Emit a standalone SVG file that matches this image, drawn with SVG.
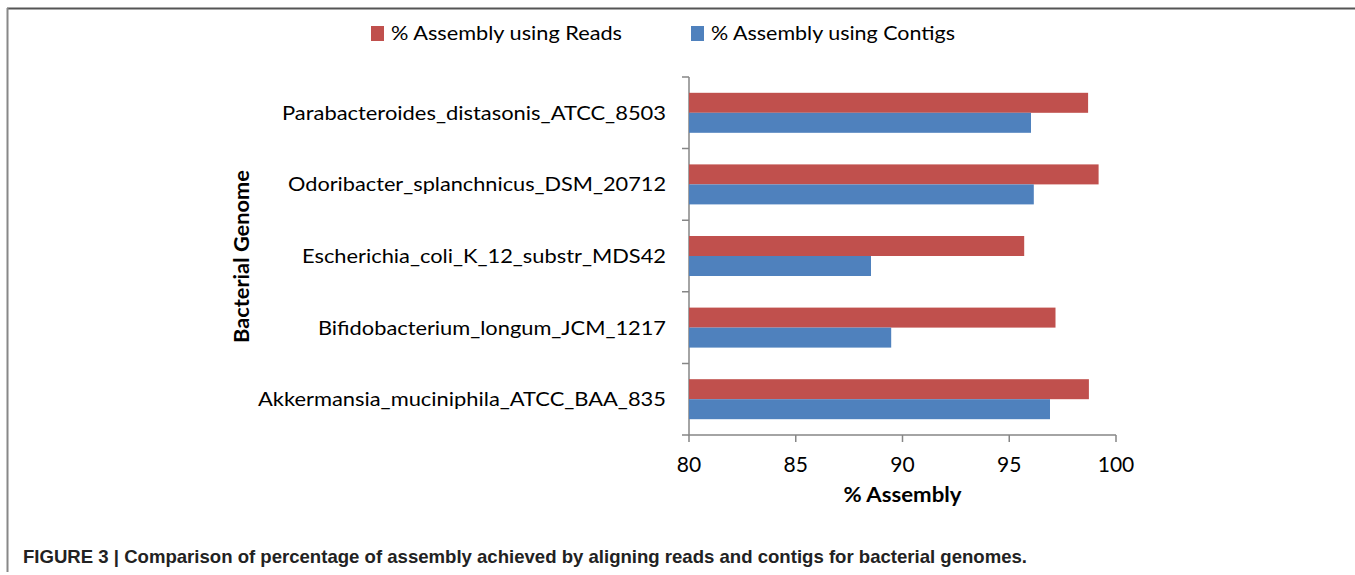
<svg xmlns="http://www.w3.org/2000/svg" width="1355" height="575" viewBox="0 0 1355 575">
<style>
.lbl{font-family:Lato,"Liberation Sans",sans-serif;font-size:20px;fill:#000}
.tick{font-family:Lato,"Liberation Sans",sans-serif;font-size:21px;fill:#000;text-anchor:middle}
.ttl{font-family:Lato,"Liberation Sans",sans-serif;font-size:20px;font-weight:bold;fill:#000}
.cap{font-family:"Liberation Sans",Arial,sans-serif;font-size:19px;font-weight:bold;fill:#222}
.red{fill:#C0504D}
.blue{fill:#4F81BD}
.ax{stroke:#868686;stroke-width:1.5;fill:none}
</style>
<rect x="0" y="0" width="1355" height="575" fill="#fff"/>
<g id="frame">
<line x1="7" y1="8.5" x2="1355" y2="8.5" stroke="#555" stroke-width="2"/>
<line x1="7.5" y1="8" x2="7.5" y2="572" stroke="#888" stroke-width="2"/>
</g>
<g id="legend">
<rect class="red" x="371" y="26" width="13" height="15"/>
<text class="lbl" x="391" y="40" textLength="231" lengthAdjust="spacingAndGlyphs">% Assembly using Reads</text>
<rect class="blue" x="691" y="26" width="13" height="15"/>
<text class="lbl" x="711" y="40" textLength="244" lengthAdjust="spacingAndGlyphs">% Assembly using Contigs</text>
</g>
<g id="axes">
<path class="ax" d="M689 77V435H1116"/>
<path class="ax" d="M682 77H689M682 148.6H689M682 220.2H689M682 291.8H689M682 363.4H689M682 435H689"/>
<path class="ax" d="M689 435V442M795.75 435V442M902.5 435V442M1009.25 435V442M1116 435V442"/>
</g>
<g id="x-ticks">
<text class="tick" x="689" y="472">80</text>
<text class="tick" x="795.75" y="472">85</text>
<text class="tick" x="902.5" y="472">90</text>
<text class="tick" x="1009.25" y="472">95</text>
<text class="tick" x="1116" y="472">100</text>
</g>
<g id="axis-titles">
<text class="ttl" x="902.5" y="502" text-anchor="middle" textLength="118" lengthAdjust="spacingAndGlyphs">% Assembly</text>
<text class="ttl" transform="translate(249,256.5) rotate(-90)" text-anchor="middle" textLength="173" lengthAdjust="spacingAndGlyphs">Bacterial Genome</text>
</g>
<g id="parabacteroides">
<text class="lbl" x="666" y="119.5" text-anchor="end" textLength="384" lengthAdjust="spacingAndGlyphs">Parabacteroides_distasonis_ATCC_8503</text>
<rect class="red" x="689" y="92.8" width="399.1" height="20"/>
<rect class="blue" x="689" y="112.8" width="342" height="20"/>
</g>
<g id="odoribacter">
<text class="lbl" x="666" y="191.4" text-anchor="end" textLength="378" lengthAdjust="spacingAndGlyphs">Odoribacter_splanchnicus_DSM_20712</text>
<rect class="red" x="689" y="164.4" width="409.6" height="20"/>
<rect class="blue" x="689" y="184.4" width="344.8" height="20"/>
</g>
<g id="escherichia">
<text class="lbl" x="666" y="263" text-anchor="end" textLength="364" lengthAdjust="spacingAndGlyphs">Escherichia_coli_K_12_substr_MDS42</text>
<rect class="red" x="689" y="236" width="335.2" height="20"/>
<rect class="blue" x="689" y="256" width="182" height="20"/>
</g>
<g id="bifidobacterium">
<text class="lbl" x="666" y="334.6" text-anchor="end" textLength="348" lengthAdjust="spacingAndGlyphs">Bifidobacterium_longum_JCM_1217</text>
<rect class="red" x="689" y="307.6" width="366.5" height="20"/>
<rect class="blue" x="689" y="327.6" width="202.2" height="20"/>
</g>
<g id="akkermansia">
<text class="lbl" x="666" y="406.2" text-anchor="end" textLength="408" lengthAdjust="spacingAndGlyphs">Akkermansia_muciniphila_ATCC_BAA_835</text>
<rect class="red" x="689" y="379.2" width="399.9" height="20"/>
<rect class="blue" x="689" y="399.2" width="361" height="20"/>
</g>
<g id="caption">
<text class="cap" x="23" y="563" textLength="1004" lengthAdjust="spacingAndGlyphs">FIGURE 3 | Comparison of percentage of assembly achieved by aligning reads and contigs for bacterial genomes.</text>
</g>
</svg>
